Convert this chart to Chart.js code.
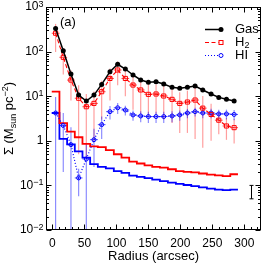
<!DOCTYPE html>
<html><head><meta charset="utf-8">
<script src="https://cdn.jsdelivr.net/npm/chart.js@4.4.1/dist/chart.umd.min.js"></script>
<style>html,body{margin:0;padding:0;background:#fff;}#wrap{width:266px;height:265px;position:relative;}</style>
</head><body><div id="wrap"><canvas id="c" width="266" height="265"></canvas></div>
<script>
// ---- data ----
const radius = [5,17,29,41,53,65,77,90,102,114,126,138,150,162,174,187,199,211,223,235,248,260,272,284];
const gas = [331,105,31.5,10.6,7.8,10.6,18.4,35.5,52,40.7,29.9,23.1,20.5,21.1,18.8,15.8,15.0,15.8,16.9,13.8,11.2,9.4,8.5,7.8];
const h2 = [258,74.5,23,9.0,5.8,6.9,12.6,25,38.7,25,17.8,13.8,11.0,11.2,10.1,8.5,6.9,7.4,8.2,5.4,3.9,2.9,2.15,1.97];
const h2Err = [160,44,15,8.5,5.4,5.9,9.6,17,21,15,12.8,9.8,7.5,7.2,7.1,6,5.4,5.9,7.1,4.7,2.9,1.5,1.1,1.1];
const hi = [4.2,2.2,0.82,0.147,0.39,1.06,2.3,4.5,5.5,4.9,3.8,3.6,3.5,3.5,3.5,3.6,3.8,4.2,4.5,4.2,4.2,4.0,4.0,3.9];
const hiErr = [5.4,2.0,1.2,0.09,0.5,0.8,1.2,1.5,1.5,1.2,1.0,1.0,1.0,1.0,1.0,1.0,1.0,1.0,1.0,1.0,1.0,1.0,1.0,1.0];
const binHalfWidth = 6;
const h2Limit = [12.6,2.5,1.6,1.2,0.85,0.75,0.72,0.62,0.50,0.42,0.34,0.31,0.28,0.26,0.25,0.23,0.21,0.20,0.196,0.185,0.175,0.168,0.162,0.178];
const hiLimit = [4.2,1.1,0.83,0.58,0.42,0.30,0.26,0.24,0.21,0.19,0.165,0.155,0.145,0.135,0.125,0.115,0.108,0.102,0.096,0.09,0.085,0.08,0.078,0.08];
const xTicks = [0,50,100,150,200,250,300];
const yTickExps = [-2,-1,0,1,2,3];
const sampleErr = {x:310, lo:0.05, hi:0.1};
const panelLabel = '(a)';

// ---- derived series ----
const edges = [radius[0]-binHalfWidth];
for (let i=1;i<radius.length;i++) edges.push((radius[i-1]+radius[i])/2);
edges.push(radius[radius.length-1]+binHalfWidth);
const stepData = v => { const d = v.map((y,i)=>({x:edges[i],y})); d.push({x:edges[edges.length-1],y:v[v.length-1]}); return d; };
const pts = v => v.map((y,i)=>({x:radius[i],y}));

const FONT = "'Liberation Sans', Arial, Helvetica, sans-serif";
const RED = '#ff0000', BLUE = '#0000ff';

const deco = {
  id:'deco',
  beforeDatasetsDraw(chart){
    const {ctx, chartArea:a, scales:{x,y}} = chart;
    ctx.save();
    ctx.beginPath(); ctx.rect(a.left,a.top,a.right-a.left,a.bottom-a.top); ctx.clip();
    const bars = (vals, errs, vcol, hcol) => {
      vals.forEach((v,i)=>{
        const px = x.getPixelForValue(radius[i]);
        const lo = v-errs[i], hi_ = v+errs[i];
        const yl = lo>0 ? y.getPixelForValue(lo) : a.bottom+2;
        const yh = y.getPixelForValue(hi_);
        ctx.strokeStyle = vcol; ctx.lineWidth = 1.2;
        ctx.beginPath(); ctx.moveTo(px,yl); ctx.lineTo(px,yh); ctx.stroke();
        const py = y.getPixelForValue(v);
        ctx.strokeStyle = hcol; ctx.lineWidth = 1;
        ctx.beginPath(); ctx.moveTo(x.getPixelForValue(radius[i]-binHalfWidth),py);
        ctx.lineTo(x.getPixelForValue(radius[i]+binHalfWidth),py); ctx.stroke();
      });
    };
    bars(h2, h2Err, 'rgba(255,0,0,0.38)', 'rgba(255,0,0,0.75)');
    bars(hi, hiErr, 'rgba(0,0,255,0.45)', 'rgba(0,0,255,0.7)');
    ctx.restore();
  },
  afterDraw(chart){
    const {ctx, chartArea:a, scales:{x,y}} = chart;
    ctx.save();
    ctx.strokeStyle='#000'; ctx.lineWidth=1;
    ctx.strokeRect(Math.round(a.left)+0.5, Math.round(a.top)+0.5, Math.round(a.right-a.left)-1, Math.round(a.bottom-a.top)-1);
    const L=Math.round(a.left)+0.5, R=Math.round(a.right)-0.5, T=Math.round(a.top)+0.5, B=Math.round(a.bottom)-0.5;
    ctx.beginPath();
    for (let v=-10; v<=326; v+=10){
      const px = Math.round(x.getPixelForValue(v))+0.5;
      if (px<=L || px>=R) continue;
      const len = (v%50===0)?5:2.5;
      ctx.moveTo(px,B); ctx.lineTo(px,B-len);
      ctx.moveTo(px,T); ctx.lineTo(px,T+len);
    }
    for (let e=-2; e<3; e++){
      for (let m=1; m<10; m++){
        const py = Math.round(y.getPixelForValue(m*Math.pow(10,e)))+0.5;
        const len = (m===1)?5:2.5;
        ctx.moveTo(L,py); ctx.lineTo(L+len,py);
        ctx.moveTo(R,py); ctx.lineTo(R-len,py);
      }
    }
    ctx.stroke();
    ctx.fillStyle='#000';
    const xr = a.left-2.5;
    yTickExps.forEach(e=>{
      const py = y.getPixelForValue(Math.pow(10,e));
      if (e===0){
        ctx.font = '12px '+FONT; ctx.textAlign='right'; ctx.textBaseline='middle';
        ctx.fillText('1', xr, py);
      } else {
        const es = e<0 ? '\u2212'+Math.abs(e) : String(e);
        ctx.font = '9px '+FONT; const ew = ctx.measureText(es).width;
        ctx.font = '12px '+FONT; ctx.textAlign='right'; ctx.textBaseline='middle';
        ctx.fillText('10', xr-ew, py);
        ctx.font = '9px '+FONT; ctx.textAlign='left'; ctx.textBaseline='alphabetic';
        ctx.fillText(es, xr-ew, py-0.5);
      }
    });
    const segs = [
      {t:'\u03A3 (M', s:13, dy:0},
      {t:'sun', s:9, dy:3},
      {t:' pc', s:13, dy:0},
      {t:'\u22122', s:9, dy:-5},
      {t:')', s:13, dy:0}
    ];
    ctx.save();
    ctx.translate(8.5, (a.top+a.bottom)/2);
    ctx.rotate(-Math.PI/2);
    let tot=0; segs.forEach(s=>{ctx.font=s.s+'px '+FONT; s.w=ctx.measureText(s.t).width; tot+=s.w;});
    let cx=-tot/2; ctx.textAlign='left'; ctx.textBaseline='alphabetic';
    segs.forEach(s=>{ctx.font=s.s+'px '+FONT; ctx.fillText(s.t,cx,4.5+s.dy); cx+=s.w;});
    ctx.restore();
    ctx.font='13px '+FONT; ctx.textAlign='left'; ctx.textBaseline='middle';
    ctx.fillText(panelLabel, 60, 22);
    const sx = Math.round(x.getPixelForValue(sampleErr.x))+0.5;
    const s1 = y.getPixelForValue(sampleErr.lo), s2 = y.getPixelForValue(sampleErr.hi);
    ctx.beginPath(); ctx.moveTo(sx,s1); ctx.lineTo(sx,s2);
    ctx.moveTo(sx-2,s1); ctx.lineTo(sx+2,s1); ctx.moveTo(sx-2,s2); ctx.lineTo(sx+2,s2);
    ctx.stroke();
    const ly = [29.5, 42.5, 55.5];
    const x0=205, x1=221, tx=235;
    ctx.setLineDash([]); ctx.strokeStyle='#000'; ctx.lineWidth=1.5;
    ctx.beginPath(); ctx.moveTo(x0,ly[0]); ctx.lineTo(x1,ly[0]); ctx.stroke();
    ctx.fillStyle='#000'; ctx.beginPath(); ctx.arc(x1,ly[0],2.5,0,Math.PI*2); ctx.fill();
    ctx.strokeStyle=RED; ctx.lineWidth=1.2; ctx.setLineDash([4,2.5]);
    ctx.beginPath(); ctx.moveTo(x0,ly[1]); ctx.lineTo(x1-2.5,ly[1]); ctx.stroke();
    ctx.setLineDash([]); ctx.lineWidth=1; ctx.strokeRect(x1-2,ly[1]-2,4,4);
    ctx.strokeStyle=BLUE; ctx.lineWidth=1.2; ctx.setLineDash([1,2]);
    ctx.beginPath(); ctx.moveTo(x0,ly[2]); ctx.lineTo(x1-2.5,ly[2]); ctx.stroke();
    ctx.setLineDash([]); ctx.lineWidth=1; ctx.beginPath(); ctx.arc(x1,ly[2],2,0,Math.PI*2); ctx.stroke();
    ctx.fillStyle='#000'; ctx.textAlign='left'; ctx.textBaseline='middle';
    ctx.font='13px '+FONT; ctx.fillText('Gas', tx, ly[0]);
    ctx.fillText('H', tx, ly[1]); const hw = ctx.measureText('H').width;
    ctx.font='9px '+FONT; ctx.fillText('2', tx+hw, ly[1]+3.5);
    ctx.font='13px '+FONT; ctx.fillText('HI', tx, ly[2]);
    ctx.restore();
  }
};

new Chart(document.getElementById('c'), {
  type:'line',
  data:{datasets:[
    {label:'Gas', data:pts(gas), borderColor:'#000', backgroundColor:'#000', borderWidth:1.5,
     pointRadius:2.5, pointStyle:'circle', pointBackgroundColor:'#000', pointBorderColor:'#000', pointBorderWidth:0},
    {label:'H2', data:pts(h2), borderColor:RED, borderWidth:1.1, borderDash:[4,2.5],
     pointStyle:'rect', pointRadius:2.9, pointBackgroundColor:'rgba(0,0,0,0)', pointBorderColor:RED, pointBorderWidth:1},
    {label:'HI', data:pts(hi), borderColor:BLUE, borderWidth:1.2, borderDash:[1,2],
     pointStyle:'circle', pointRadius:2, pointBackgroundColor:'rgba(0,0,0,0)', pointBorderColor:BLUE, pointBorderWidth:1},
    {label:'H2 limit', data:stepData(h2Limit), stepped:true, borderColor:RED, borderWidth:1.8, pointRadius:0},
    {label:'HI limit', data:stepData(hiLimit), stepped:true, borderColor:BLUE, borderWidth:1.8, pointRadius:0}
  ]},
  options:{
    responsive:false, animation:false, devicePixelRatio:1,
    layout:{padding:{left:46, right:4, top:7, bottom:0}},
    plugins:{legend:{display:false}, tooltip:{enabled:false}},
    scales:{
      x:{type:'linear', min:-10, max:326,
         grid:{display:false, drawTicks:false}, border:{display:false},
         afterBuildTicks: s => { s.ticks = xTicks.map(v=>({value:v})); },
         afterFit: s => { s.height = 35; },
         ticks:{font:{family:FONT, size:12}, color:'#000', padding:6, maxRotation:0, autoSkip:false},
         title:{display:true, text:'Radius (arcsec)', color:'#000', font:{family:FONT, size:13}, padding:{top:0,bottom:1}}},
      y:{type:'logarithmic', min:0.01, max:1000, display:false}
    }
  },
  plugins:[deco]
});
</script></body></html>
